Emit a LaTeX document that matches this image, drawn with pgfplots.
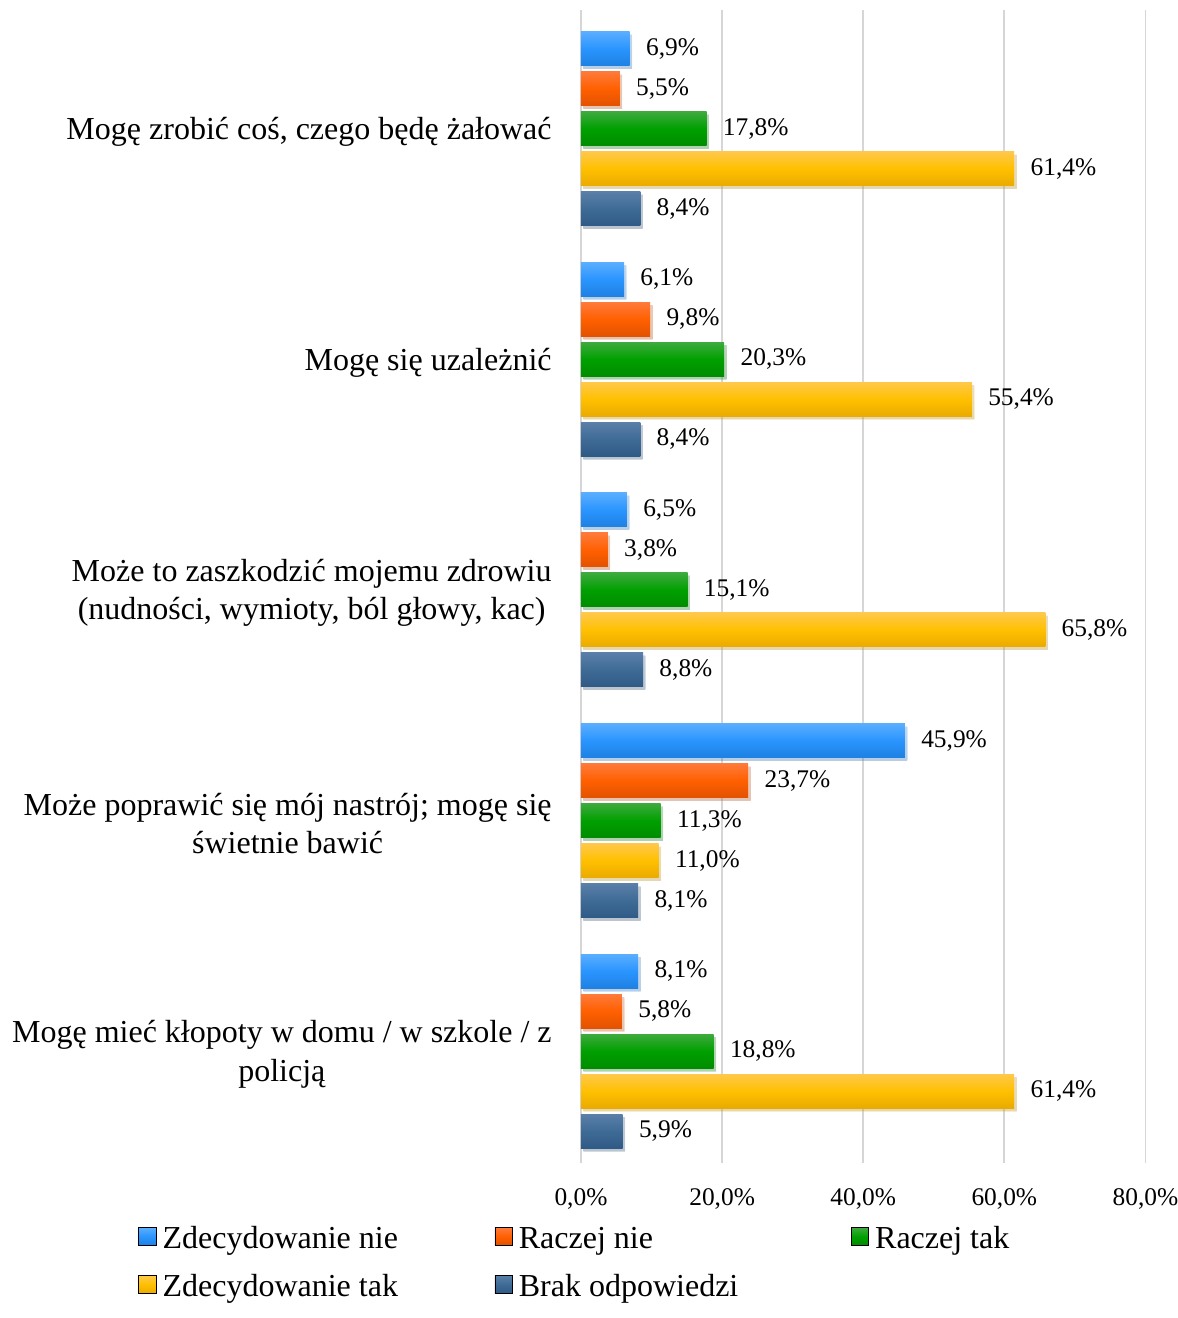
\documentclass[border=0pt]{standalone}
\usepackage{pgfplots}
\pgfplotsset{compat=1.18}
\usetikzlibrary{shadows}
\usepackage{fontspec}
\setmainfont{Liberation Serif}
\definecolor{bluT}{HTML}{5AAEFF}\definecolor{bluM}{HTML}{2A95FF}\definecolor{bluB}{HTML}{1E80E2}
\definecolor{oraT}{HTML}{FF7A3A}\definecolor{oraM}{HTML}{FF6000}\definecolor{oraB}{HTML}{E25200}
\definecolor{greT}{HTML}{3DAA3D}\definecolor{greM}{HTML}{00A000}\definecolor{greB}{HTML}{008C00}
\definecolor{yelT}{HTML}{FFC84A}\definecolor{yelM}{HTML}{FFC000}\definecolor{yelB}{HTML}{EAAA00}
\definecolor{steT}{HTML}{5A7FA8}\definecolor{steM}{HTML}{3E6B96}\definecolor{steB}{HTML}{2F5A85}
\pgfplotsset{
  cA/.style={top color=bluT, bottom color=bluB, middle color=bluM},
  cB/.style={top color=oraT, bottom color=oraB, middle color=oraM},
  cC/.style={top color=greT, bottom color=greB, middle color=greM},
  cD/.style={top color=yelT, bottom color=yelB, middle color=yelM},
  cE/.style={top color=steT, bottom color=steB, middle color=steM},
  shd/.style={draw=none, forget plot, drop shadow={opacity=0.22, shadow xshift=1.2pt, shadow yshift=-1.5pt}},
  sA/.style={shd, cA, bar shift=40pt},
  sB/.style={shd, cB, bar shift=20pt},
  sC/.style={shd, cC, bar shift=0pt},
  sD/.style={shd, cD, bar shift=-20pt},
  sE/.style={shd, cE, bar shift=-40pt},
}
\begin{document}
\begin{tikzpicture}
\begin{axis}[
  scale only axis,
  width=282.25pt, height=576.5pt,
  xbar, bar width=17pt,
  xmin=0, xmax=80,
  ymin=-0.485, ymax=4.515,
  xtick={0,20,40,60,80},
  ytick={0,1,2,3,4},
  yticklabels={{Mogę mieć kłopoty w domu / w szkole / z\\policją},
               {Może poprawić się mój nastrój; mogę się\\świetnie bawić},
               {Może to zaszkodzić mojemu zdrowiu\\(nudności, wymioty, ból głowy, kac)},
               {Mogę się uzależnić},
               {Mogę zrobić coś, czego będę żałować}},
  xmajorgrids,
  grid style={draw=black!16, line width=0.9pt},
  axis line style={draw=none},
  major tick length=0pt,
  /pgf/number format/assume math mode=true,
  xticklabel={\pgfmathprintnumber[fixed,fixed zerofill,precision=1,use comma]{\tick}\%},
  xticklabel style={font=\fontsize{12.7}{15}\selectfont, anchor=north, inner sep=0pt, yshift=-12.5pt},
  yticklabel style={font=\fontsize{16}{19.2}\selectfont, align=center, anchor=east, inner sep=0pt, xshift=-14.5pt, yshift=-1.5pt},
  point meta=x,
  nodes near coords={\pgfmathprintnumber[fixed,fixed zerofill,precision=1,use comma]{\pgfplotspointmeta}\%},
  nodes near coords style={font=\fontsize{12.7}{15}\selectfont, anchor=west, inner sep=0pt, xshift=8pt, text=black},
  clip=false,
  legend columns=3,
  legend style={draw=none, fill=none, inner sep=0pt, font=\fontsize{16}{19.2}\selectfont,
    at={(-0.785,-0.0505)}, anchor=north west,
    nodes={inner sep=0pt}, row sep=9pt,
    /tikz/every odd column/.style={column sep=3pt}},
  legend cell align=left,
  legend image code/.code={\fill[#1] (0pt,-4.4pt) rectangle (8.75pt,4.4pt);},
]
\addlegendimage{cA}
\addlegendentry{\makebox[166pt][l]{\strut Zdecydowanie nie}}
\addlegendimage{cB}
\addlegendentry{\makebox[166pt][l]{\strut Raczej nie}}
\addlegendimage{cC}
\addlegendentry{\makebox[100pt][l]{\strut Raczej tak}}
\addlegendimage{cD}
\addlegendentry{\makebox[166pt][l]{\strut Zdecydowanie tak}}
\addlegendimage{cE}
\addlegendentry{\makebox[166pt][l]{\strut Brak odpowiedzi}}
% category 4: Mogę zrobić coś, czego będę żałować
\addplot[sA] coordinates {(6.9,4)};
\addplot[sB] coordinates {(5.5,4)};
\addplot[sC] coordinates {(17.8,4)};
\addplot[sD] coordinates {(61.4,4)};
\addplot[sE] coordinates {(8.4,4)};
% category 3: Mogę się uzależnić
\addplot[sA] coordinates {(6.1,3)};
\addplot[sB] coordinates {(9.8,3)};
\addplot[sC] coordinates {(20.3,3)};
\addplot[sD] coordinates {(55.4,3)};
\addplot[sE] coordinates {(8.4,3)};
% category 2: Może to zaszkodzić mojemu zdrowiu
\addplot[sA] coordinates {(6.5,2)};
\addplot[sB] coordinates {(3.8,2)};
\addplot[sC] coordinates {(15.1,2)};
\addplot[sD] coordinates {(65.8,2)};
\addplot[sE] coordinates {(8.8,2)};
% category 1: Może poprawić się mój nastrój
\addplot[sA] coordinates {(45.9,1)};
\addplot[sB] coordinates {(23.7,1)};
\addplot[sC] coordinates {(11.3,1)};
\addplot[sD] coordinates {(11.0,1)};
\addplot[sE] coordinates {(8.1,1)};
% category 0: Mogę mieć kłopoty w domu / w szkole / z policją
\addplot[sA] coordinates {(8.1,0)};
\addplot[sB] coordinates {(5.8,0)};
\addplot[sC] coordinates {(18.8,0)};
\addplot[sD] coordinates {(61.4,0)};
\addplot[sE] coordinates {(5.9,0)};
\coordinate (bl) at (rel axis cs:0,0);
\coordinate (tr) at (rel axis cs:1,1);
\end{axis}
\pgfresetboundingbox
\path ([shift={(-290.5pt,-77.5pt)}]bl) rectangle ([shift={(16.25pt,5pt)}]tr);
\end{tikzpicture}
\end{document}
